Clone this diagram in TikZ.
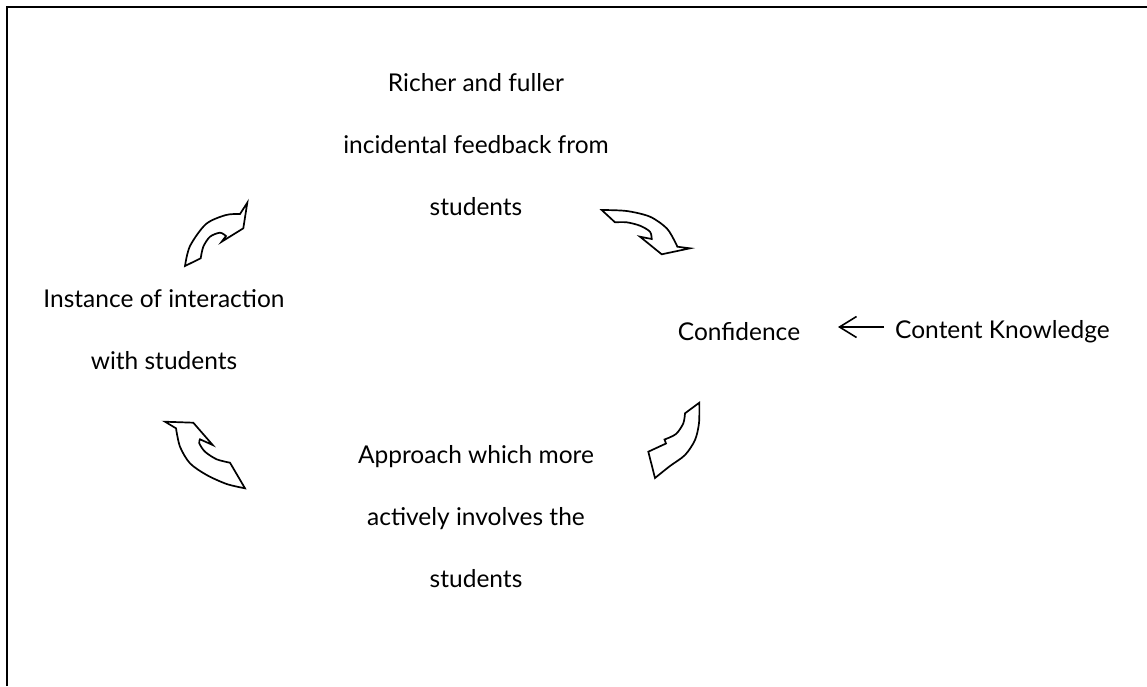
\documentclass[tikz,border=0pt]{standalone}
\usepackage{fontspec}
\setmainfont{Lato}
\usetikzlibrary{arrows.meta}
\begin{document}
\begin{tikzpicture}[x=1pt,y=-1pt,
  lbl/.style={inner sep=0pt,align=center,font=\fontsize{24.5}{62}\selectfont},
  blockarrow/.style={draw=black,line width=1.7pt,line join=miter,fill=white},
  frame/.style={line width=2pt}]
\useasboundingbox (0,0) rectangle (1147,686);
% frame (top and left edges only)
\draw[frame] (6.5,686) -- (6.5,6.5) -- (1147,6.5);
% texts
\node[lbl] (rich) at (476,145) {Richer and fuller\\incidental feedback from\\students};
\node[lbl] (inst) at (164,330) {Instance of interaction\\with students};
\node[lbl] (conf) at (739,332) {Confidence};
\node[lbl,anchor=west] (know) at (895,332) {Content Knowledge};
\node[lbl] (appr) at (476,517) {Approach which more\\actively involves the\\students};
% straight arrow
\coordinate (kt) at (884,327);
\coordinate (ct) at (838,327);
\draw[line width=1.6pt,-{Straight Barb[length=17pt,width=21pt]}] (kt) -- (ct);
% curved block arrows
\draw[blockarrow] plot[smooth] coordinates {(185,266) (190,246) (206,224) (226,215) (240,214)}
  -- (247.3,202.7) -- (243.3,228.3) -- (221.7,241.7) -- (226,236)
  -- plot[smooth] coordinates {(226,236) (220,232.7) (210,236.7) (203.3,246.7) (200.7,258.3)} -- cycle;
\draw[blockarrow] plot[smooth] coordinates {(601.7,210) (626.7,211) (650,216.7) (666.7,228.3) (675,241.7) (677.3,246.7)}
  -- (690,248.3) -- (661.7,254.3) -- (640,236.7) -- (651.7,239)
  -- plot[smooth] coordinates {(651.7,239) (650,231.7) (640,225.7) (626.7,222.3) (615,222.3)} -- cycle;
\draw[blockarrow] plot[smooth] coordinates {(699.3,402.7) (699,423) (695,440) (685,455) (670,466) (655,478)}
  -- (648.3,451.7) -- (666,443.5) -- (664.5,439.5)
  -- plot[smooth] coordinates {(664.5,439.5) (676,434) (683.3,423.3) (685,413.3)} -- cycle;
\draw[blockarrow] (165,421.7) -- (193.3,422.7) -- (212.7,445) -- (200,439.3)
  -- plot[smooth] coordinates {(200,439.3) (199.3,443.3) (205,451.7) (216.7,459.3) (230,462.7)}
  -- (245,488.3)
  -- plot[smooth] coordinates {(245,488.3) (226.7,484) (206.7,475) (190,463.3) (180,446.7) (176,428.3)} -- cycle;
\end{tikzpicture}
\end{document}
